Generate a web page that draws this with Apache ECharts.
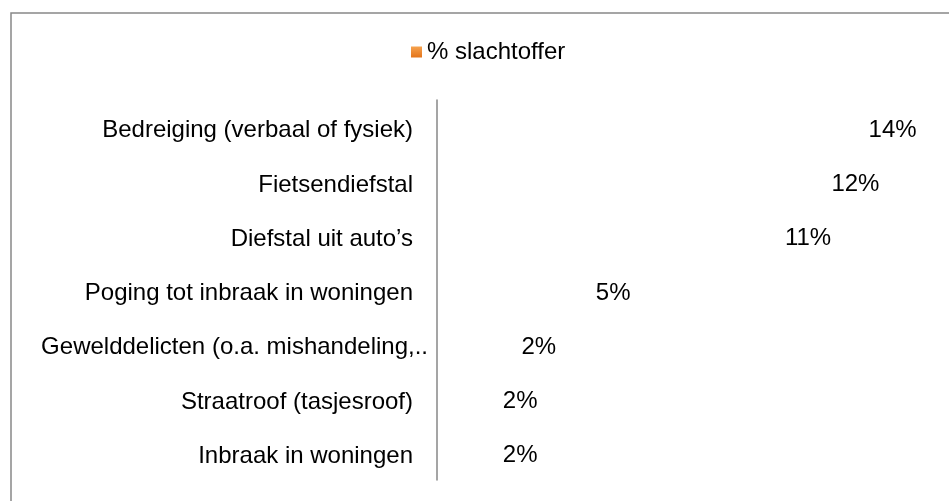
<!DOCTYPE html>
<html>
<head>
<meta charset="utf-8">
<script src="https://cdn.jsdelivr.net/npm/echarts@6/dist/echarts.min.js"></script>
<style>
html,body{margin:0;padding:0;background:#fff;}
#chart{width:949px;height:501px;}
</style>
</head>
<body>
<div id="chart"></div>
<script>
const categories = [
  'Bedreiging (verbaal of fysiek)',
  'Fietsendiefstal',
  'Diefstal uit auto\u2019s',
  'Poging tot inbraak in woningen',
  'Gewelddelicten (o.a. mishandeling,..',
  'Straatroof (tasjesroof)',
  'Inbraak in woningen'
];
const seriesName = '% slachtoffer';
const values = [13.6, 12.4, 10.9, 4.8, 2.4, 1.8, 1.8];

const FONT = "'Liberation Sans', Arial, sans-serif";
const chart = echarts.init(document.getElementById('chart'), null, {renderer: 'canvas'});

const yData = categories.map(function (c) {
  if (c.indexOf('Gewelddelicten') === 0) {
    return { value: c, textStyle: { padding: [0, 0, 0, 0] } };
  }
  return c;
});

chart.setOption({
  animation: false,
  backgroundColor: '#ffffff',
  graphic: [{
    type: 'rect',
    shape: { x: 11, y: 13, width: 1000, height: 600 },
    style: { fill: 'none', stroke: '#888888', lineWidth: 1.5 },
    silent: true
  }],
  legend: {
    left: 406,
    top: 35,
    itemWidth: 11,
    itemHeight: 11,
    itemGap: 10,
    icon: 'rect',
    textStyle: { fontFamily: FONT, fontSize: 24, color: '#000' },
    data: [{
      name: seriesName,
      itemStyle: {
        color: new echarts.graphic.LinearGradient(0, 0, 0, 1, [
          { offset: 0, color: '#f6a24e' },
          { offset: 1, color: '#e3741a' }
        ])
      }
    }]
  },
  grid: { left: 437, right: 16, top: 100, bottom: 21, containLabel: false },
  xAxis: {
    type: 'value',
    min: 0,
    max: 16,
    show: false
  },
  yAxis: {
    type: 'category',
    inverse: true,
    data: yData,
    axisLine: { show: true, lineStyle: { color: '#878787', width: 1.5 } },
    axisTick: { show: false },
    splitLine: { show: false },
    axisLabel: {
      fontFamily: FONT,
      fontSize: 24,
      color: '#000',
      margin: 9,
      padding: [0, 15, 0, 0],
      formatter: function (v) { return '{s|}\n{t|' + v + '}'; },
      rich: {
        s: { height: 7, lineHeight: 7, fontSize: 1 },
        t: { fontFamily: FONT, fontSize: 24, color: '#000', align: 'right' }
      }
    }
  },
  series: [{
    name: seriesName,
    type: 'bar',
    data: values,
    barWidth: '60%',
    itemStyle: { color: 'rgba(255,255,255,0)' },
    label: {
      show: true,
      position: 'right',
      distance: 10,
      offset: [0, 3],
      fontFamily: FONT,
      fontSize: 24,
      color: '#000',
      formatter: function (p) { return Math.round(p.value) + '%'; }
    }
  }]
});
</script>
</body>
</html>
